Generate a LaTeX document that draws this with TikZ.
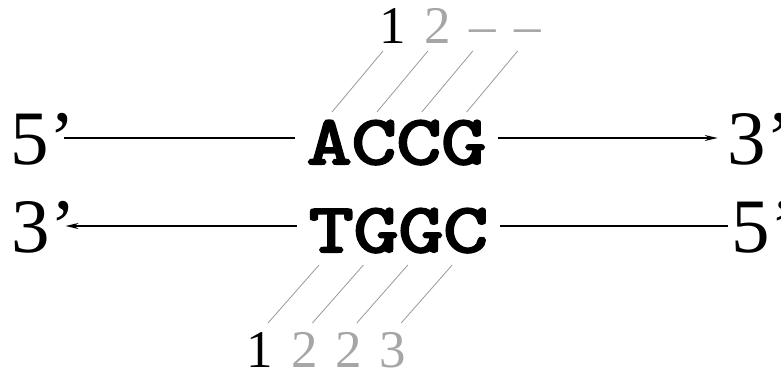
\documentclass[tikz,border=0pt]{standalone}
\usepackage{fontspec}
\setmainfont{Liberation Serif}
\newfontfamily\seqfont{lmmono10-regular.otf}[FakeBold=3]
\usetikzlibrary{
    positioning,  % For placing the index digits next to each other (base right=of)
    arrows.meta   % For the arrow tips on the strands
}

\begin{document}
\begin{tikzpicture}[
    x=1pt, y=1pt,
    % Style for the strand lines
    strand_style/.style={
        line width=1.3pt
    },
    % Style for arrowheads
    arrow_tip/.style={
        -{Stealth[length=13pt, width=6pt]}
    },
    % Style for the 5'/3' end labels
    end_style/.style={
        font=\fontsize{77}{77}\selectfont,
        inner sep=0pt, text height=52pt, text depth=0pt
    },
    % Style for the base sequences (heavy typewriter)
    seq_style/.style={
        font=\fontsize{70}{70}\selectfont\seqfont,
        inner xsep=12pt, inner ysep=0pt, text height=52pt, text depth=0pt
    },
    % Style for the index digits
    idx_style/.style={
        font=\fontsize{53}{53}\selectfont,
        inner sep=0pt
    },
    faded/.style={text=black!35},
    % Style for the thin slanted guide lines
    link_style/.style={
        draw=black!40, line width=0.8pt
    }
]
    \useasboundingbox (0,0) rectangle (781,-372);

    % 1. The two strands.
    \node[seq_style] (accg) at (396.5,-138) {\scalebox{1.22}[1]{ACCG}};
    \node[seq_style] (tggc) at (398.5,-226) {\scalebox{1.22}[1]{TGGC}};

    % 2. The strand ends.
    \node[end_style, anchor=west] (fiveL)  at (10.5,-138)  {5’};
    \node[end_style, anchor=west] (threeL) at (11.7,-226)  {3’};
    \node[end_style, anchor=west] (threeR) at (727.7,-138) {3’};
    \node[end_style, anchor=west] (fiveR)  at (731.5,-226) {5’};

    % 3. Strand lines, running 5' -> 3'.
    \draw[strand_style] ([xshift=-11pt]fiveL.east) -- (accg.west);
    \draw[strand_style, arrow_tip] (accg.east) -- ([xshift=-10pt]threeR.west);
    \draw[strand_style, arrow_tip] (tggc.west) -- ([xshift=-10.7pt]threeL.east);
    \draw[strand_style] (tggc.east) -- ([xshift=-3.5pt]fiveR.west);

    % 4. Index digits above and below.
    \node[idx_style, anchor=base] (top1) at (393,-43) {1};
    \node[idx_style, faded, base right=18pt of top1] (top2) {2};
    \node[idx_style, faded, base right=18pt of top2] (top3) {–};
    \node[idx_style, faded, base right=18pt of top3] (top4) {–};

    \node[idx_style, anchor=base] (bot1) at (260,-367) {1};
    \node[idx_style, faded, base right=17.5pt of bot1] (bot2) {2};
    \node[idx_style, faded, base right=17.5pt of bot2] (bot3) {2};
    \node[idx_style, faded, base right=17.5pt of bot3] (bot4) {3};

    % 5. Slanted guide lines from the digits towards the bases.
    \foreach \i in {1,...,4} {
        \draw[link_style] ([shift={(-10,-8)}]top\i.base) -- ++(-51,-61);
        \draw[link_style] ([shift={(8,44)}]bot\i.base) -- ++(51,58);
    }

\end{tikzpicture}
\end{document}
